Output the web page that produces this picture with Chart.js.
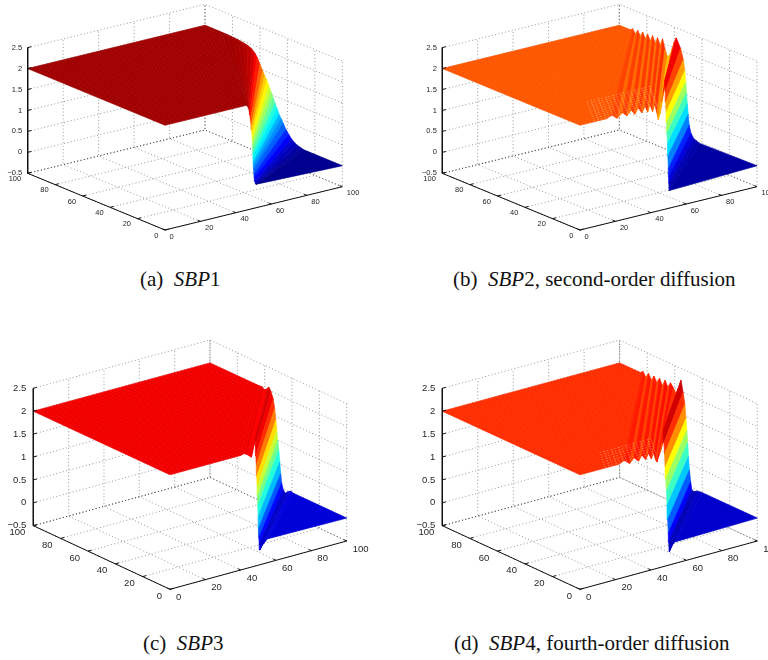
<!DOCTYPE html>
<html>
<head>
<meta charset="utf-8">
<script src="https://cdn.jsdelivr.net/npm/chart.js@4"></script>
<style>
  html, body { margin: 0; padding: 0; background: #fff; }
  body { position: relative; width: 768px; height: 660px; overflow: hidden; }
  canvas { position: absolute; filter: blur(0.35px); }
  .cap { position: absolute; font-family: "Liberation Serif", serif; font-size: 21px; color: #111; white-space: pre; line-height: 22px; }
</style>
</head>
<body>
<canvas id="chartA" style="left:0;top:0" width="384" height="262"></canvas>
<canvas id="chartB" style="left:384px;top:0" width="384" height="262"></canvas>
<canvas id="chartC" style="left:0;top:340px" width="384" height="280"></canvas>
<canvas id="chartD" style="left:384px;top:340px" width="384" height="280"></canvas>
<div class="cap" style="left:140px;top:268px">(a)  <i>SBP</i>1</div>
<div class="cap" style="left:453px;top:268px">(b)  <i>SBP</i>2, second-order diffusion</div>
<div class="cap" style="left:143px;top:632px">(c)  <i>SBP</i>3</div>
<div class="cap" style="left:454px;top:632px">(d)  <i>SBP</i>4, fourth-order diffusion</div>
<script>
const xTicks = [0, 20, 40, 60, 80, 100];
const yTicks = [0, 20, 40, 60, 80, 100];
const zTicks = [-0.5, 0, 0.5, 1, 1.5, 2, 2.5];
const zTickLabels = ["\u22120.5", "0", "0.5", "1", "1.5", "2", "2.5"];

// each surface is a fan of strips: height along the far edge (x=100) and along the near edge (y=0)
const plateau = 2;

const aEdgeY = [88,84,80,76,72,69,66,63.5,62,60,58,56.5,55,53.5,52,50.5,49,47.5,46,44.5,43,41,39,37,35.5,33,30,28];
const aEdgeZ = [2,1.998,1.99,1.98,1.96,1.94,1.9,1.82,1.75,1.61,1.48,1.38,1.3,1.18,1.07,.96,.83,.72,.6,.52,.43,.31,.22,.14,.1,.05,.02,0];
const aFrontX = [46,46.2,46.4,46.6,46.8,47,47.3,47.6,47.9,48.2,48.6,48.9,49.1,49.25,49.35,49.45,49.55,49.65,49.75,49.85,49.95,50.2,50.4,50.6,50.9,51.2,51.5,51.7];
const aFrontZ = [2,1.998,1.99,1.98,1.96,1.94,1.9,1.82,1.75,1.61,1.48,1.38,1.3,1.18,1.07,.96,.83,.72,.6,.52,.43,.31,.22,.14,.1,.07,.06,.06];
const aGaps = [];

const bEdgeY = [92,90.2,88.4,86.6,84.8,83,81.2,79.4,77.6,75.8,74,72.2,70.4,68.6,66.8,65,63.2,61.4,60,58.6,55.5,53.5,52.4,51.7,51.2,50.6,50,49.2,48,46,44,41.6];
const bEdgeZ = [2,2.05,1.95,2.06,1.94,2.07,1.93,2.07,1.93,2.08,1.92,2.08,1.92,2.1,1.88,1.72,1.8,1.98,2.15,2.26,2.05,1.8,1.55,1.3,1.05,.8,.55,.3,.13,.03,0,-.03];
const bFrontX = [15,18,21,24,26.5,29,31,33,35,36.8,38.2,39.6,41,42.3,43.4,44.2,45.2,46,47,47.9,48.15,48.4,48.65,48.9,49.15,49.4,49.65,49.9,50.1,50.2,50.3,50.4];
const bFrontZ = [2,2.05,1.95,2.05,1.95,2.06,1.94,2.07,1.93,2.07,1.92,2.08,1.9,2.06,1.85,1.67,1.8,2.08,2.3,2.58,2.3,2.05,1.8,1.55,1.3,1.05,.75,.45,.25,.1,0,-.08];
const bGaps = [1.5,4,6.5,9,11.5,14,16.5,19,21.5,24];

const cEdgeY = [64,62,60.5,59,57,55.5,53.8,52.7,51.8,51.1,50.4,49.7,49,48.3,47.6,46.5,45,43,41,39];
const cEdgeZ = [2,2.01,1.97,1.99,2.07,2,1.86,1.66,1.42,1.2,1,.8,.55,.3,.11,-.02,-.08,-.02,.02,0];
const cFrontX = [40,42,44,46,48.1,48.35,48.6,48.85,49.1,49.3,49.5,49.7,49.9,50.1,50.3,50.5,50.9,52,53.5,55];
const cFrontZ = [2,2.02,1.97,1.9,2.27,2.1,1.9,1.7,1.45,1.22,1,.8,.55,.3,.1,-.05,-.18,-.1,-.04,.02];
const cGaps = [];

const dEdgeY = [85,83,81,79,77,75,73,71,69,67,65,63,61,59,57.2,55.4,53.9,52.6,51.8,51.2,50.6,50,49.3,48.4,47.6,46,44,42.7,40];
const dEdgeZ = [2,2.05,1.95,2.06,1.94,2.06,1.94,2.07,1.93,2.08,1.96,2.08,2,1.9,2.05,2.24,2,1.75,1.45,1.2,.95,.65,.37,.12,-.04,-.06,-.02,-.01,0];
const dFrontX = [22,25,28,30.5,33,35,37,38.7,40.2,41.6,42.6,43.4,44.5,45.3,46.2,47,47.35,47.7,48.05,48.4,48.75,49.1,49.45,49.8,50.05,50.2,50.4,51.5,53.5];
const dFrontZ = [2,2.05,1.95,2.05,1.95,2.06,1.94,2.06,1.92,2.04,1.88,1.82,1.95,2.02,2.2,2.48,2.2,1.95,1.65,1.4,1.12,.82,.5,.2,0,-.1,-.21,-.1,-.03];
const dGaps = [1.5,4,6.5,9,11.5,14,16.5];

function jet(v) {
  v = Math.max(0, Math.min(1, v));
  const ch = (t) => Math.round(255 * Math.max(0, Math.min(1, 1.5 - Math.abs(4 * v - t))));
  return `rgb(${ch(3)},${ch(2)},${ch(1)})`;
}

function makePanel(id, view, edgeY, edgeZ, frontX, frontZ, gaps) {
  const canvas = document.getElementById(id);
  const w = canvas.width, h = canvas.height;
  const ux = view.right[0] - view.front[0], uy = view.right[1] - view.front[1];
  const vx = view.left[0] - view.front[0], vy = view.left[1] - view.front[1];

  // 3d -> chart coordinates
  const proj = (x, y, z) => ({
    x: view.front[0] + ux * x / 100 + vx * y / 100,
    y: view.front[1] + uy * x / 100 + vy * y / 100 - (z + 0.5) * view.zUnit,
  });

  const datasets = [];
  const addLine = (pts, color, width, dash) => datasets.push({
    data: pts, showLine: true, pointRadius: 0, borderColor: color, borderWidth: width,
    borderDash: dash || [], fill: false, tension: 0,
  });
  // facet colour comes from its far edge corner, like a flat shaded surf
  const addFacet = (corners) => {
    const col = jet((corners[1][2] - view.clim[0]) / (view.clim[1] - view.clim[0]));
    const pts = corners.map((c) => proj(c[0], c[1], c[2]));
    pts.push(pts[0]);
    datasets.push({
      data: pts, showLine: true, pointRadius: 0, borderColor: col, borderWidth: 0.7,
      backgroundColor: col, fill: "shape", tension: 0,
    });
  };

  const dots = [1, 2.4];
  const grey = "#8c8c8c", dark = "#4a4a4a";
  // walls and floor
  xTicks.forEach((t) => {
    addLine([proj(t, 0, -0.5), proj(t, 100, -0.5), proj(t, 100, 2.5)], t === 0 ? dark : grey, 0.9, dots);
  });
  yTicks.forEach((t) => {
    addLine([proj(0, t, -0.5), proj(100, t, -0.5), proj(100, t, 2.5)], t === 100 ? dark : grey, 0.9, dots);
  });
  zTicks.forEach((t) => {
    addLine([proj(0, 100, t), proj(100, 100, t), proj(100, 0, t)], t === -0.5 ? dark : grey, 0.9, dots);
  });

  // surface, far strips first
  addFacet([[0, 100, plateau], [0, 0, plateau], [frontX[0], 0, frontZ[0]], [100, edgeY[0], edgeZ[0]], [100, 100, plateau]]);

  // faint mesh weave on the flat part
  for (let x = 2.5; x < 100; x += 2.5) {
    const yLow = x <= frontX[0] ? 0 : edgeY[0] * (x - frontX[0]) / (100 - frontX[0]);
    addLine([proj(x, yLow, plateau), proj(x, 100, plateau)], "rgba(255,255,255,0.12)", 1, [1, 2]);
  }

  for (let i = 0; i + 1 < edgeY.length; i++) {
    addFacet([[frontX[i], 0, frontZ[i]], [100, edgeY[i], edgeZ[i]], [100, edgeY[i + 1], edgeZ[i + 1]], [frontX[i + 1], 0, frontZ[i + 1]]]);
  }
  const last = edgeY.length - 1;
  addFacet([[frontX[last], 0, frontZ[last]], [100, edgeY[last], edgeZ[last]], [100, 0, 0]]);

  // pale specks where the ripples open the mesh
  gaps.forEach((y) => {
    addLine([proj(view.gapFrom + y * 0.6, y, plateau), proj(44 + y * 0.6, y, plateau)], "rgba(255,225,190,0.5)", 1, [1, 3, 1.5, 2]);
  });

  // axis lines and ticks on top
  addLine([proj(0, 100, 2.5), proj(0, 100, -0.5), proj(0, 0, -0.5), proj(100, 0, -0.5)], "#111", 1);
  zTicks.forEach((t) => addLine([proj(0, 100, t), proj(2, 100, t)], "#111", 1));
  yTicks.forEach((t) => addLine([proj(0, t, -0.5), proj(2, t, -0.5)], "#111", 1));
  xTicks.forEach((t) => addLine([proj(t, 0, -0.5), proj(t, 2, -0.5)], "#111", 1));

  const tickText = {
    id: "tickText",
    afterDatasetsDraw(chart) {
      const c = chart.ctx, sx = chart.scales.x, sy = chart.scales.y;
      const put = (p, dx, dy, text, align) => {
        c.textAlign = align;
        c.fillText(text, sx.getPixelForValue(p.x) + dx, sy.getPixelForValue(p.y) + dy);
      };
      c.save();
      c.font = view.font + "px 'Liberation Sans', Arial, sans-serif";
      c.fillStyle = "#262626";
      c.textBaseline = "middle";
      zTicks.forEach((t, i) => put(proj(0, 100, t), -view.gap, 0, zTickLabels[i], "right"));
      yTicks.forEach((t) => put(proj(0, t, -0.5), -view.gap - 1, view.gap, String(t), "right"));
      xTicks.forEach((t) => put(proj(t, 0, -0.5), view.gap - 1, view.gap + 1, String(t), "left"));
      c.restore();
    },
  };

  new Chart(canvas, {
    type: "scatter",
    // chart.js paints the first dataset last
    data: { datasets: datasets.reverse() },
    plugins: [tickText],
    options: {
      responsive: false,
      animation: false,
      layout: { padding: 0 },
      plugins: { legend: { display: false }, tooltip: { enabled: false } },
      scales: {
        x: { type: "linear", min: 0, max: w, display: false },
        y: { type: "linear", min: 0, max: h, reverse: true, display: false },
      },
    },
  });
}

makePanel("chartA", { front: [165, 230], right: [342.3, 186.7], left: [27.7, 173.3], zUnit: 41.9, clim: [-0.03, 2.07], font: 7.5, gap: 5.5, gapFrom: 8 },
  aEdgeY, aEdgeZ, aFrontX, aFrontZ, aGaps);
makePanel("chartB", { front: [196, 230], right: [373, 186.7], left: [58.3, 173.3], zUnit: 41.9, clim: [-0.12, 2.56], font: 7.5, gap: 5.5, gapFrom: 8 },
  bEdgeY, bEdgeZ, bFrontX, bFrontZ, bGaps);
makePanel("chartC", { front: [170, 249.3], right: [346.7, 201], left: [33.3, 185.7], zUnit: 45.8, clim: [-0.22, 2.28], font: 9.5, gap: 7, gapFrom: 8 },
  cEdgeY, cEdgeZ, cFrontX, cFrontZ, cGaps);
makePanel("chartD", { front: [196, 249.3], right: [373.3, 201], left: [58.3, 185.7], zUnit: 45.8, clim: [-0.2, 2.45], font: 9.5, gap: 7, gapFrom: 14 },
  dEdgeY, dEdgeZ, dFrontX, dFrontZ, dGaps);
</script>
</body>
</html>
